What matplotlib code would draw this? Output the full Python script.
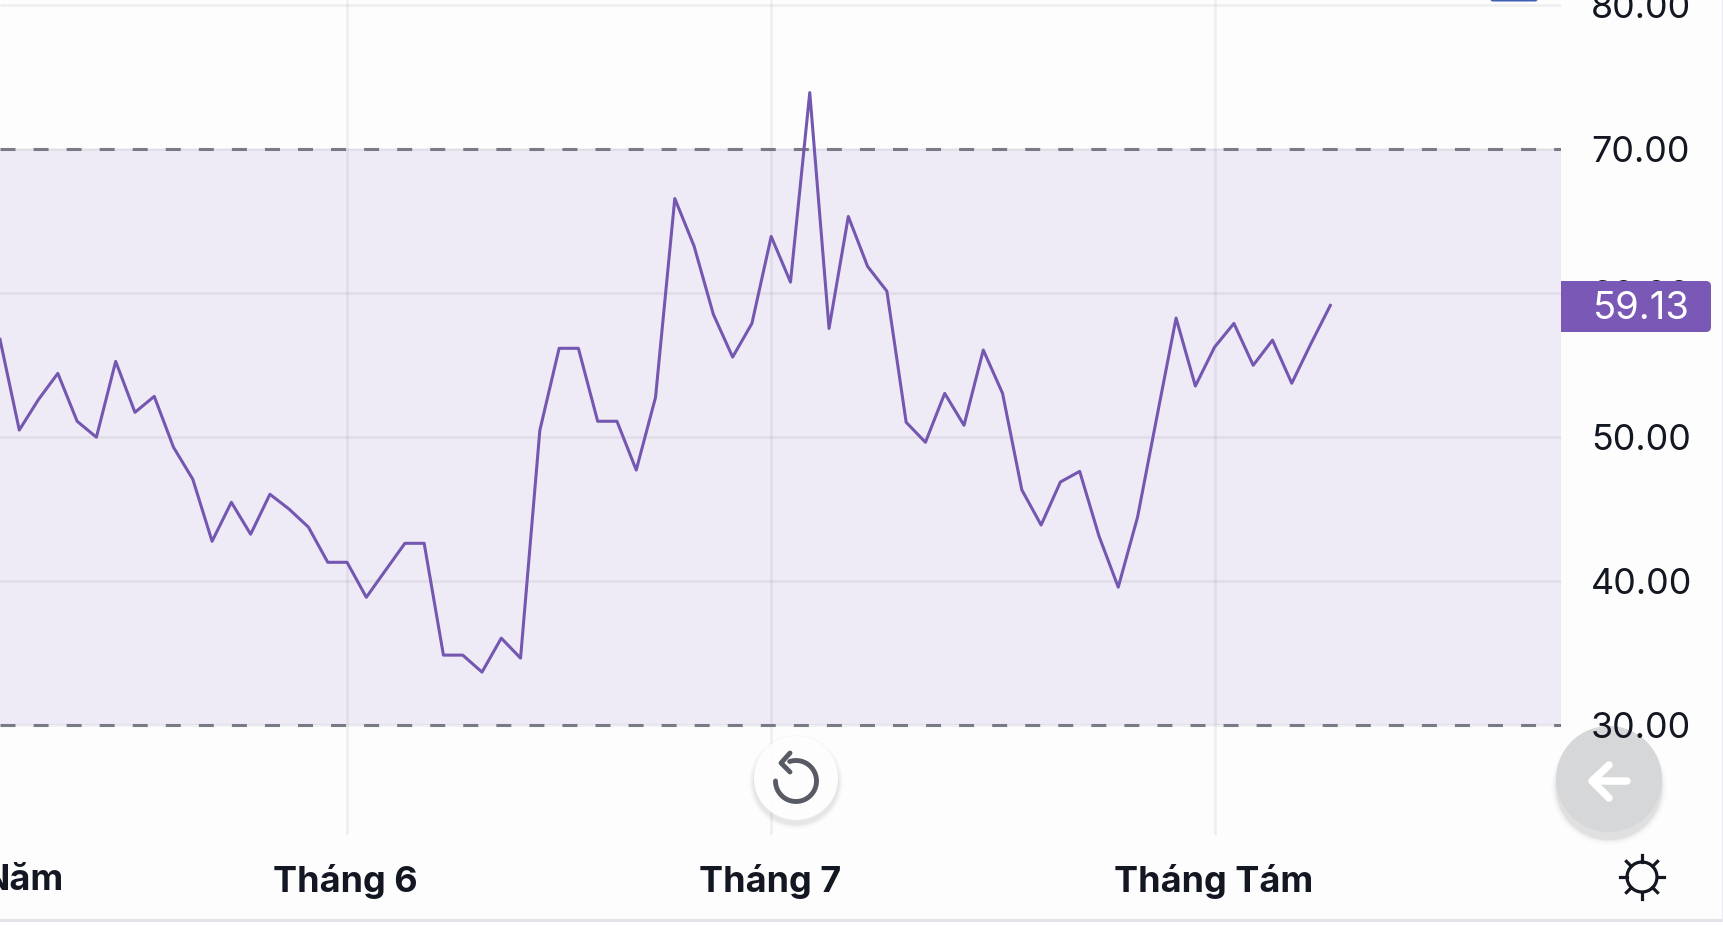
import numpy as np
import matplotlib
matplotlib.use("Agg")
import matplotlib.pyplot as plt
from matplotlib.patches import Circle, FancyBboxPatch, Rectangle
from matplotlib.transforms import ScaledTranslation

plt.rcParams['font.family'] = ['Inter', 'DejaVu Sans']
plt.rcParams['lines.scale_dashes'] = False

rsi = [56.77, 50.47, 52.60, 54.41, 51.08, 49.97, 55.24, 51.70, 52.81, 49.27,
       47.05, 42.74, 45.45, 43.23, 46.01, 44.97, 43.72, 41.28, 41.28, 38.85,
       40.73, 42.60, 42.60, 34.83, 34.83, 33.65, 36.01, 34.62, 50.45, 56.15,
       56.15, 51.08, 51.08, 47.69, 52.74, 66.56, 63.25, 58.51, 55.54, 57.88,
       63.92, 60.75, 73.92, 57.53, 65.31, 61.84, 60.12, 51.01, 49.62, 53.02,
       50.80, 56.03, 53.02, 46.31, 43.87, 46.86, 47.60, 43.11, 39.55, 44.41,
       51.35, 58.25, 53.53, 56.24, 57.88, 54.97, 56.72, 53.72, 56.49, 59.13]
last_value = "59.13"
y_ticks = [30, 40, 50, 60, 70, 80]
band = (30, 70)
month_pos = [18, 40, 63]
month_labels = ["Tháng 6", "Tháng 7", "Tháng Tám"]
cut_label = "Năm"

W, H = 1723, 925
BG = "#fdfdfd"
PURPLE = "#7457b0"
INK = "#131722"

fig = plt.figure(figsize=(W/100, H/100), dpi=100, facecolor=BG)

# pixel layer under the chart, the grey back button sits here so 30.00 stays on top
under = fig.add_axes([0, 0, 1, 1], zorder=0)
under.set_xlim(0, W)
under.set_ylim(H, 0)
under.axis("off")
for r, a in [(58, 0.012), (56.5, 0.015), (55, 0.02), (54, 0.03), (53, 0.035)]:
    under.add_patch(Circle((1609, 787), r, fc="#000000", ec="none", alpha=a))
under.add_patch(Circle((1609, 779), 53, fc="#d6d7d9", ec="none"))

# chart axes, limits chosen so 10 units = 143.9 px
px_x = 19.28
ax = fig.add_axes([0, (H-835)/H, 1561/W, 835/H], zorder=1)
ax.patch.set_alpha(0)
ax.set_xlim(0, 1561/px_x)
ax.set_ylim(22.33, 80.354)
ax.axhspan(band[0], band[1], fc="#efebf6", ec="none", zorder=0)
ax.hlines(y_ticks, *ax.get_xlim(), colors="#000000", alpha=0.055, lw=1.9, zorder=1)
ax.vlines(month_pos, *ax.get_ylim(), colors="#000000", alpha=0.055, lw=1.9, zorder=1)
for b in band:
    ax.axhline(b, color="#787b86", lw=2.2, dashes=(10.8, 13.0), zorder=2)
ax.plot(range(len(rsi)), rsi, color=PURPLE, lw=2.2, zorder=3)

for s in ax.spines.values():
    s.set_visible(False)
ax.yaxis.tick_right()
ax.set_yticks(y_ticks)
ax.set_yticklabels(["%.2f" % t for t in y_ticks])
ax.tick_params(axis="y", length=0, pad=21.5, labelsize=25.8, labelcolor=INK)
ax.set_xticks(month_pos)
ax.set_xticklabels(month_labels, fontweight="bold")
ax.tick_params(axis="x", length=0, pad=21, labelsize=25.9, labelcolor=INK)
shift = ScaledTranslation(-1.5/100, 0, fig.dpi_scale_trans)
for lab in ax.get_xticklabels():
    lab.set_transform(lab.get_transform() + shift)

# pixel layer on top: badge, buttons, borders
top = fig.add_axes([0, 0, 1, 1], zorder=2)
top.set_xlim(0, W)
top.set_ylim(H, 0)
top.axis("off")
top.patch.set_alpha(0)

top.text(23, 881, cut_label, fontsize=25.9, fontweight="bold", color=INK, ha="center", va="center")

badge = FancyBboxPatch((1540, 281), 171, 51, boxstyle="round,pad=0,rounding_size=5", fc="#7a58b5", ec="none")
top.add_patch(badge)
badge.set_clip_path(Rectangle((1561, 270), 160, 70, transform=top.transData))
top.text(1641, 309, last_value, fontsize=27.5, color="#ffffff", ha="center", va="center")

# small blue tab cut by the top edge
top.add_patch(FancyBboxPatch((1490, -12), 48, 13.5, boxstyle="round,pad=0,rounding_size=3", fc="#3f5fb5", ec="none"))

# reset button
for r, a in [(47, 0.02), (45, 0.03), (43.5, 0.04)]:
    top.add_patch(Circle((796, 782), r, fc="#000000", ec="none", alpha=a))
top.add_patch(Circle((796, 778), 42, fc="#ffffff", ec="none", alpha=0.93))
t = np.radians(np.linspace(-108, 180, 60))
top.plot(796 + 20.5*np.cos(t), 781 + 20.5*np.sin(t), color="#585b65", lw=3.5, solid_capstyle="round")
top.plot([790, 781, 790], [753, 763, 772], color="#585b65", lw=3.5, solid_capstyle="round", solid_joinstyle="round")

# back button arrow
top.plot([1627, 1595], [781, 781], color="#ffffff", lw=5.4, solid_capstyle="round")
top.plot([1609, 1592, 1609], [765, 781, 798], color="#ffffff", lw=5.4, solid_capstyle="round", solid_joinstyle="round")

# sun icon
top.add_patch(Circle((1642, 877), 15, fc="none", ec=INK, lw=2.3))
for ang in range(0, 360, 45):
    c, s = np.cos(np.radians(ang)), np.sin(np.radians(ang))
    top.plot([1642+15*c, 1642+22*c], [877+15*s, 877+22*s], color=INK, lw=2.3)

top.add_patch(Rectangle((0, 919), 1722, 3, fc="#e1e3e8", ec="none"))
top.add_patch(Rectangle((1722, 0), 1, 925, fc="#e9eaee", ec="none"))
top.add_patch(Rectangle((0, 922), W, 3, fc="#ffffff", ec="none"))

fig.savefig("out.png", dpi=100, facecolor=BG)
